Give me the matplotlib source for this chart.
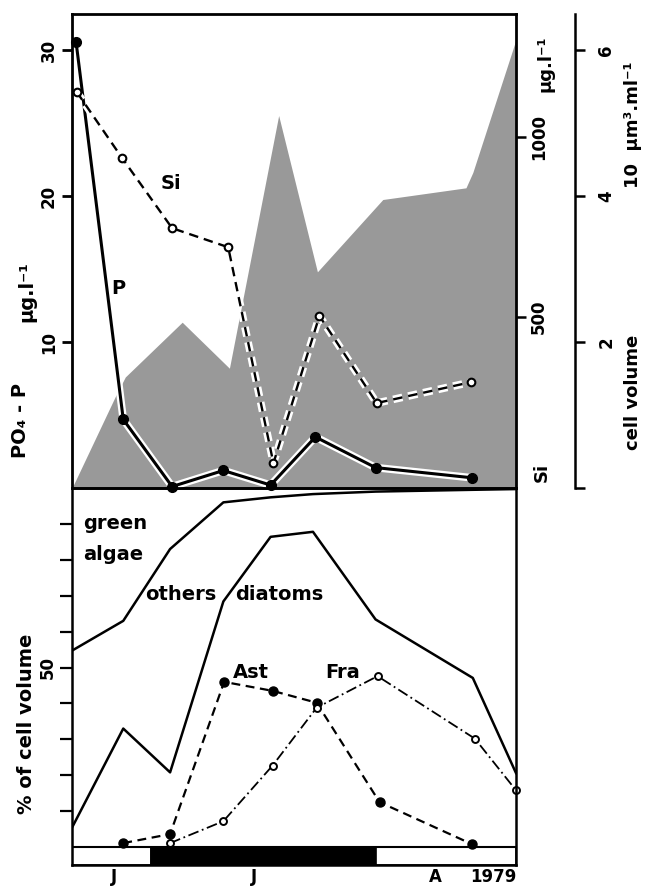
import numpy as np
import matplotlib
matplotlib.use("Agg")
import matplotlib.pyplot as plt
import matplotlib.patheffects as pe

plt.rcParams['font.family'] = ['DejaVu Sans']
plt.rcParams['font.weight'] = 'bold'

# ---- data (x = days from the left edge of the plot) ----
p_days = [1, 12.7, 24.8, 37.5, 49.2, 60.3, 75.2, 99.1]
p_vals = [30.6, 4.7, 0.1, 1.2, 0.2, 3.5, 1.4, 0.7]          # PO4-P ug/l

si_days = [1.2, 12.4, 24.8, 38.7, 49.9, 61.3, 75.5, 98.8]
si_vals = [1125, 942, 747, 694, 94, 503, 261, 319]          # Si ug/l

cv_days = [0, 10.7, 13.2, 27.3, 39.0, 51.2, 60.8, 77.0, 97.6, 99.3, 110]
cv_vals = [0, 1.25, 1.52, 2.27, 1.64, 5.1, 2.96, 3.95, 4.11, 4.32, 6.14]

comp_days = [0, 12.7, 24.3, 37.5, 49.2, 59.7, 75.2, 99.3, 110]
upper_line = [54.7, 63, 83, 96, 97.4, 98.3, 99.0, 99.5, 99.7]   # others | green algae
diatom_line = [5.4, 33, 20.8, 68.4, 86.4, 87.8, 63.4, 47.1, 20.6]  # diatoms | others

ast_days = [12.7, 24.3, 37.7, 49.7, 60.6, 76.2, 99.1]
ast_vals = [1.1, 3.6, 46, 43.5, 40.2, 12.5, 0.8]
fra_days = [24.3, 37.5, 49.7, 60.6, 75.7, 99.8, 110]
fra_vals = [1.1, 7.2, 22.7, 38.8, 47.6, 30.2, 15.8]

bar_edges = [0, 19.6, 75.4, 110]
bar_colors = ['white', 'black', 'white']
month_pos = [10.4, 45.2, 90.1, 104.3]
month_labels = ['J', 'J', 'A', '1979']

W, H = 653, 886
XMAX = 110


def box(l, t, r, b):
    return [l / W, 1 - b / H, (r - l) / W, (b - t) / H]


def vcenter(ax):
    for t in ax.get_yticklabels():
        t.set_va('center')


fig = plt.figure(figsize=(W / 100, H / 100), dpi=100)
halo = [pe.withStroke(linewidth=5.5, foreground='white')]

# ---------------- top panel ----------------
axcv = fig.add_axes(box(72, 14, 516, 488))
ax1 = fig.add_axes(box(72, 14, 516, 488))
axsi = fig.add_axes(box(72, 14, 516, 488))
for a, z in ((axcv, 0), (ax1, 1), (axsi, 2)):
    a.set_zorder(z)
    a.set_xlim(0, XMAX)
    a.set_xticks([])
ax1.patch.set_visible(False)
axsi.patch.set_visible(False)

# cell volume (shaded)
axcv.fill_between(cv_days, 0, cv_vals, color='0.6', lw=0)
axcv.set_ylim(0, 6.49)
axcv.yaxis.tick_right()
axcv.spines['right'].set_position(('outward', 42.5))
for s in ('left', 'top', 'bottom'):
    axcv.spines[s].set_visible(False)
axcv.spines['right'].set_linewidth(1.8)
axcv.set_yticks([0, 2, 4, 6])
axcv.set_yticklabels(['', '2', '4', '6'])
axcv.tick_params(axis='y', direction='out', length=7, width=1.8, pad=9,
                 labelsize=12, labelrotation=90)
vcenter(axcv)

# PO4-P
ax1.plot(p_days, p_vals, color='black', lw=2.2, path_effects=halo,
         clip_on=False)
ax1.plot(p_days, p_vals, ls='none', color='black', marker='o', ms=7,
         clip_on=False)
ax1.set_ylim(0, 32.5)
ax1.set_yticks([10, 20, 30])
ax1.tick_params(axis='y', direction='out', length=7, width=2, pad=3,
                labelsize=12, labelrotation=90)
vcenter(ax1)
for s in ax1.spines.values():
    s.set_linewidth(2)
ax1.spines['right'].set_visible(False)

# Si
axsi.plot(si_days, si_vals, color='black', lw=1.7, ls=(0, (4, 2.5)),
          path_effects=halo)
axsi.plot(si_days, si_vals, ls='none', color='black', marker='o', ms=5.5,
          mfc='white', mew=1.5)
axsi.set_ylim(25, 1342)
axsi.yaxis.tick_right()
axsi.set_yticks([500, 1000])
axsi.tick_params(axis='y', direction='out', length=7, width=1.8, pad=3,
                 labelsize=12, labelrotation=90)
vcenter(axsi)
for s in ('left', 'top', 'bottom'):
    axsi.spines[s].set_visible(False)
axsi.spines['right'].set_linewidth(2)

ax1.text(24.5, 20.9, 'Si', fontsize=14, ha='center', va='center')
ax1.text(11.4, 13.7, 'P', fontsize=14, ha='center', va='center')

# ---------------- bottom panel ----------------
ax2 = fig.add_axes(box(72, 488, 516, 865))
ax2.set_xlim(0, XMAX)
ax2.set_ylim(-5, 100)
ax2.plot(comp_days, upper_line, color='black', lw=1.8)
ax2.plot(comp_days, diatom_line, color='black', lw=1.8)
ax2.plot(ast_days, ast_vals, color='black', lw=1.6, ls=(0, (4, 2.5)),
         marker='o', ms=6.5, clip_on=False)
ax2.plot(fra_days, fra_vals, color='black', lw=1.3, ls=(0, (6, 2, 1, 2)),
         marker='o', ms=5, mfc='white', mew=1.4, clip_on=False)
for i in range(len(bar_colors)):
    ax2.fill_between([bar_edges[i], bar_edges[i + 1]], -5, 0,
                     color=bar_colors[i], ec='black', lw=1.2)
ax2.axhline(0, color='black', lw=1.5)

ax2.set_yticks(range(10, 100, 10))
ax2.set_yticklabels(['50' if v == 50 else '' for v in range(10, 100, 10)])
ax2.tick_params(axis='y', direction='out', length=9, width=1.6, pad=2,
                labelsize=12, labelrotation=90)
vcenter(ax2)
ax2.set_xticks(month_pos)
ax2.set_xticklabels(month_labels)
ax2.tick_params(axis='x', length=0, pad=2, labelsize=12)
for s in ax2.spines.values():
    s.set_linewidth(1.8)

ax2.text(2.7, 90, 'green', fontsize=14, ha='left', va='center')
ax2.text(2.7, 81.5, 'algae', fontsize=14, ha='left', va='center')
ax2.text(18, 70.3, 'others', fontsize=14, ha='left', va='center')
ax2.text(40.5, 70.3, 'diatoms', fontsize=14, ha='left', va='center')
ax2.text(39.8, 48.5, 'Ast', fontsize=14, ha='left', va='center')
ax2.text(62.8, 48.5, 'Fra', fontsize=14, ha='left', va='center')

# ---------------- free labels ----------------
fig.text(21 / W, 1 - 421 / H, 'PO\u2084 - P', rotation=90, fontsize=14,
         ha='center', va='center')
fig.text(27 / W, 1 - 292 / H, '\u03bcg.l\u207b\u00b9', rotation=90, fontsize=14,
         ha='center', va='center')
fig.text(27 / W, 1 - 724 / H, '% of cell volume', rotation=90, fontsize=14,
         ha='center', va='center')
fig.text(545 / W, 1 - 64 / H, '\u03bcg.l\u207b\u00b9', rotation=90, fontsize=13,
         ha='center', va='center')
fig.text(542 / W, 1 - 472 / H, 'Si', rotation=90, fontsize=13,
         ha='center', va='center')
fig.text(633 / W, 1 - 125 / H, '10  \u03bcm\u00b3.ml\u207b\u00b9', rotation=90,
         fontsize=13, ha='center', va='center')
fig.text(633 / W, 1 - 392 / H, 'cell volume', rotation=90, fontsize=13,
         ha='center', va='center')

fig.savefig('out.png', dpi=100)
